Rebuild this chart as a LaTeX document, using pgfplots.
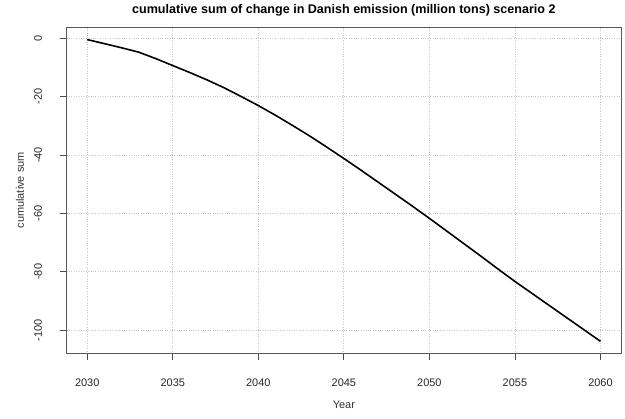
\documentclass[border=0pt]{standalone}
\usepackage{fontspec}
\setmainfont{Liberation Sans}
\usepackage{pgfplots}
\pgfplotsset{compat=1.18}
\begin{document}
\begin{tikzpicture}
\path[use as bounding box] (0bp,0bp) rectangle (625bp,419bp);
\begin{axis}[
  at={(66.7bp,65.7bp)}, anchor=south west,
  scale only axis, width=554.3bp, height=326bp,
  xmin=2028.8, xmax=2061.2, ymin=-107.9, ymax=3.7,
  xtick={2030,2035,...,2060},
  ytick={-100,-80,-60,-40,-20,0},
  yticklabels={-100,-80,-60,-40,-20,0},
  /pgf/number format/assume math mode=true,
  /pgf/number format/1000 sep={},
  tick pos=left, tick align=outside,
  major tick length=7bp,
  tick style={gray!60!black, line width=0.8bp},
  axis line style={gray!70!black, line width=0.9bp},
  grid=major,
  major grid style={black!22, dotted, line width=0.8bp},
  ticklabel style={font=\fontsize{11}{13}\selectfont, text=black!85},
  xticklabel style={anchor=center},
  xticklabel shift=22.7bp,
  yticklabel style={rotate=90, anchor=center},
  yticklabel shift=21.7bp,
  title={cumulative sum of change in Danish emission (million tons) scenario 2},
  title style={at={(axis description cs:0.5,1.0255)}, anchor=base, font=\bfseries\fontsize{12.6}{15}\selectfont},
  xlabel={Year},
  xlabel style={at={(axis description cs:0.5,-0.158)}, anchor=center, font=\fontsize{11}{13}\selectfont, text=black!80},
  ylabel={cumulative sum},
  ylabel style={at={(axis description cs:-0.0843,0.5)}, anchor=center, font=\fontsize{11}{13}\selectfont, text=black!80},
]
\addplot[black, line width=1.6bp, mark=none, line join=round] table {
x y
2030 -0.5
2031 -1.9
2032 -3.3
2033 -4.8
2034 -7.0
2035 -9.4
2036 -11.8
2037 -14.3
2038 -17.0
2039 -20.0
2040 -23.1
2041 -26.4
2042 -29.9
2043 -33.5
2044 -37.3
2045 -41.2
2046 -45.2
2047 -49.3
2048 -53.4
2049 -57.5
2050 -61.7
2051 -66.0
2052 -70.3
2053 -74.6
2054 -79.0
2055 -83.3
2056 -87.4
2057 -91.5
2058 -95.6
2059 -99.7
2060 -103.8
};
\end{axis}
\end{tikzpicture}
\end{document}
